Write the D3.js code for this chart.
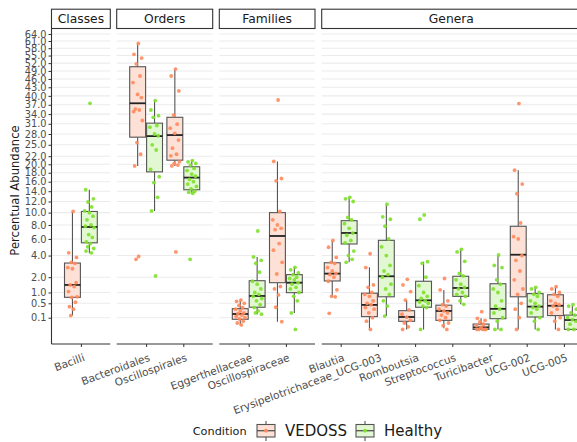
<!DOCTYPE html>
<html>
<head>
<meta charset="utf-8">
<script src="https://cdn.jsdelivr.net/npm/d3@7"></script>
<style>
  body { margin: 0; background: #fff; }
  svg { font-family: "DejaVu Sans", sans-serif; }
</style>
</head>
<body>
<svg id="chart" width="577" height="442"></svg>
<script>
// facets and taxa
var facetNames = ["Classes", "Orders", "Families", "Genera"];
var taxa = ["Bacilli", "Bacteroidales", "Oscillospirales", "Eggerthellaceae", "Oscillospiraceae",
	"Blautia", "Erysipelotrichaceae_UCG-003", "Romboutsia", "Streptococcus", "Turicibacter", "UCG-002", "UCG-005"];
var taxonFacet = ["Classes", "Orders", "Orders", "Families", "Families",
	"Genera", "Genera", "Genera", "Genera", "Genera", "Genera", "Genera"];
var conditions = ["VEDOSS", "Healthy"];

// box stats per taxon: [lower whisker, q1, median, q3, upper whisker]
var vedossBox = [
	[0.14, 0.755, 1.45, 3.23, 10.2],
	[19.6, 27.1, 37.5, 50.6, 60],
	[19.6, 21, 27.7, 33, 49.7],
	[0.014, 0.075, 0.174, 0.315, 0.634],
	[0.044, 1.6, 6.4, 10, 20.7],
	[0.78, 1.72, 2.28, 3.26, 5.77],
	[0, 0.12, 0.44, 0.96, 2.83],
	[0, 0.048, 0.113, 0.257, 0.634],
	[0.001, 0.06, 0.25, 0.43, 1.14],
	[0, 0, 0.003, 0.021, 0.09],
	[0, 0.78, 4.09, 7.8, 18.6],
	[0, 0.14, 0.41, 0.88, 1.34]
];
var healthyBox = [
	[4.25, 5.5, 7.7, 10.2, 14.3],
	[10.3, 18.2, 27.4, 31.2, 38.4],
	[13.6, 14.3, 16.9, 19.4, 20.9],
	[0.17, 0.36, 0.82, 1.74, 3.85],
	[0.2, 0.99, 1.6, 2.2, 2.83],
	[3.3, 5.35, 6.82, 8.67, 12.8],
	[0.13, 0.78, 2.07, 5.82, 11.5],
	[0, 0.36, 0.62, 1.7, 3.36],
	[0.46, 0.8, 1.26, 2.07, 4.74],
	[0, 0.084, 0.31, 1.53, 4.06],
	[0, 0.113, 0.38, 0.94, 1.3],
	[0, 0, 0.065, 0.15, 0.41]
];

// individual samples
var vedossPoints = [
	[10.2, 4.3, 3.8, 3.3, 3.2, 2.8, 2.7, 1.6, 1.45, 1.35, 1.05, 0.78, 0.75, 0.54, 0.38, 0.3, 0.14],
	[60, 55.5, 54, 51.7, 47.1, 44.7, 40.5, 39.4, 35.6, 35.3, 34.8, 32, 25.6, 22.5, 19.6, 3.9, 3.6],
	[49.7, 47.1, 41.7, 33.7, 30.9, 29.7, 28.2, 26.3, 24.1, 22.5, 22.1, 20.6, 20.2, 19.8, 19.6, 4.4],
	[0.63, 0.58, 0.5, 0.42, 0.35, 0.3, 0.25, 0.2, 0.18, 0.15, 0.12, 0.1, 0.08, 0.05, 0.03, 0.015],
	[38.6, 20.7, 16.7, 16.2, 10.2, 8.8, 8, 7.5, 7.3, 5.4, 4.6, 3.3, 2.25, 1.35, 1.2, 0.87, 0.36, 0.044],
	[5.8, 4.95, 3.8, 3.3, 3.2, 2.8, 2.5, 2.3, 2.2, 2.0, 1.7, 1.15, 0.8, 0.78, 0.19],
	[4.2, 2.8, 1.45, 1.3, 1.0, 0.9, 0.8, 0.6, 0.5, 0.45, 0.35, 0.3, 0.2, 0.1, 0.05, 0],
	[1.84, 1.45, 1.05, 0.63, 0.28, 0.17, 0.11, 0.06, 0.03, 0.005, 0],
	[1.9, 1.14, 0.6, 0.45, 0.4, 0.3, 0.25, 0.2, 0.15, 0.1, 0.06, 0.03, 0.01, 0],
	[0.23, 0.09, 0.06, 0.04, 0.02, 0.01, 0.003, 0, 0, 0, 0, 0],
	[37.4, 18.6, 15.5, 13.5, 8.3, 6.3, 6.0, 4.0, 3.5, 2.5, 1.8, 1.2, 0.9, 0.5, 0.3, 0.1, 0],
	[1.34, 1.2, 1.0, 0.9, 0.8, 0.6, 0.5, 0.45, 0.4, 0.3, 0.2, 0.1, 0.05, 0]
];
var healthyPoints = [
	[37.5, 14.3, 12.5, 11.9, 11, 10.3, 10, 9.4, 8.8, 8, 7.8, 7.6, 6.6, 6.2, 5.6, 5.4, 5, 4.8, 4.5, 4.3],
	[38.4, 35.3, 33.5, 33, 30.5, 30, 28, 27.5, 25, 23.6, 18.8, 17.1, 15.8, 12.8, 10.3, 2.1],
	[20.9, 20.6, 20.2, 19.8, 19, 18.5, 17.7, 17.2, 16.5, 16, 15.5, 15, 14.5, 14, 13.8, 13.6, 3.6],
	[7.1, 3.85, 3.5, 3.2, 2.4, 1.7, 1.5, 1.2, 1.0, 0.9, 0.8, 0.7, 0.6, 0.45, 0.35, 0.25, 0.2, 0.17],
	[2.83, 2.6, 2.35, 2.2, 2.0, 1.9, 1.8, 1.6, 1.5, 1.3, 1.2, 1.0, 0.8, 0.6, 0.2, 0],
	[12.8, 12.5, 12, 9.2, 8.8, 8.2, 7.5, 6.8, 6.5, 5.8, 5.5, 4.5, 4.0, 3.6, 3.3],
	[11.5, 9.3, 8.9, 7.8, 6.0, 5.0, 4.0, 3.0, 2.5, 2.2, 2.0, 1.5, 1.2, 0.9, 0.6, 0.4, 0.13],
	[9.6, 8.9, 3.36, 3.2, 2.0, 1.4, 1.0, 0.8, 0.7, 0.6, 0.55, 0.5, 0.4, 0.35, 0],
	[4.7, 4.4, 3.4, 2.3, 2.1, 1.8, 1.5, 1.3, 1.2, 1.0, 0.9, 0.8, 0.6, 0.46],
	[4.06, 3.0, 2.8, 1.8, 1.5, 1.2, 1.0, 0.6, 0.4, 0.3, 0.2, 0.1, 0.05, 0, 0],
	[1.3, 1.2, 1.0, 0.9, 0.8, 0.6, 0.5, 0.4, 0.35, 0.3, 0.2, 0.1, 0.05, 0],
	[0.45, 0.4, 0.3, 0.2, 0.15, 0.1, 0.07, 0.05, 0.02, 0, 0]
];

var yTicks = [0.1, 0.5, 1, 2, 4, 6, 8, 10, 12, 14, 16, 18, 20, 22, 25, 28, 31, 34, 37, 40, 43, 46, 49, 52, 55, 58, 61, 64];

// layout
var panelTop = 29, panelBottom = 344;
var step = 37.2;
var panels = [
	{name: "Classes", x0: 51.5, x1: 110.3, pad: 29.4},
	{name: "Orders", x0: 116.7, x1: 212.7, pad: 29.4},
	{name: "Families", x0: 219.3, x1: 315, pad: 29.4},
	{name: "Genera", x0: 321.7, x1: 581, pad: 19}
];
var pointColor = {VEDOSS: "#ff8a5c", Healthy: "#7ee02a"};
var boxFill = {VEDOSS: "#fde0d6", Healthy: "#e2f8d2"};
// fixed spread pattern for the jittered points
var jitter = [0.1, -0.55, 0.6, -0.2, 0.35, -0.7, 0.0, 0.55, -0.35, 0.25, -0.6, 0.7, -0.1, 0.45, -0.45, 0.15, -0.25, 0.65, -0.5, 0.3];

var svg = d3.select("#chart");

var y = d3.scaleSqrt().domain([0, 64]).range([329.4, 34]);
var dodge = d3.scaleBand().domain(conditions).range([-16.4, 16.4]).paddingInner(0.06);

panels.forEach(function(p, pi){
	var cats = taxa.filter(function(t, i){ return taxonFacet[i] === p.name; });
	var x = d3.scalePoint().domain(cats)
		.range([p.x0 + p.pad, p.x0 + p.pad + (cats.length - 1) * step]);
	p.x = x;

	var g = svg.append("g");

	// grid
	g.selectAll("line.grid").data(yTicks).enter().append("line")
		.attr("x1", p.x0).attr("x2", p.x1)
		.attr("y1", function(d){ return y(d); })
		.attr("y2", function(d){ return y(d); })
		.attr("stroke", "#ebebeb")
		.attr("stroke-width", 1.1);

	// strip
	g.append("rect")
		.attr("x", p.x0).attr("y", 9.2)
		.attr("width", p.x1 - p.x0 + 20 * (p.name === "Genera")).attr("height", 19.3)
		.attr("fill", "#fff")
		.attr("stroke", "#333")
		.attr("stroke-width", 1.1);
	g.append("text")
		.attr("x", (p.x0 + p.x1) / 2)
		.attr("y", 23.2)
		.attr("text-anchor", "middle")
		.attr("font-size", 12.3)
		.attr("fill", "#1a1a1a")
		.text(p.name);

	// boxes and points
	cats.forEach(function(cat){
		var ti = taxa.indexOf(cat);
		conditions.forEach(function(cond){
			var b = cond === "VEDOSS" ? vedossBox[ti] : healthyBox[ti];
			var pts = cond === "VEDOSS" ? vedossPoints[ti] : healthyPoints[ti];
			var cx = x(cat) + dodge(cond) + dodge.bandwidth() / 2;
			var w = dodge.bandwidth();

			g.append("line")
				.attr("x1", cx).attr("x2", cx)
				.attr("y1", y(b[0])).attr("y2", y(b[1]))
				.attr("stroke", "#555").attr("stroke-width", 1.1);
			g.append("line")
				.attr("x1", cx).attr("x2", cx)
				.attr("y1", y(b[3])).attr("y2", y(b[4]))
				.attr("stroke", "#555").attr("stroke-width", 1.1);
			g.append("rect")
				.attr("x", cx - w / 2).attr("y", y(b[3]))
				.attr("width", w).attr("height", Math.max(y(b[1]) - y(b[3]), 0.5))
				.attr("fill", boxFill[cond])
				.attr("stroke", "#555").attr("stroke-width", 1.1);
			g.append("line")
				.attr("x1", cx - w / 2).attr("x2", cx + w / 2)
				.attr("y1", y(b[2])).attr("y2", y(b[2]))
				.attr("stroke", "#222").attr("stroke-width", 1.8);

			g.selectAll(null).data(pts).enter().append("circle")
				.attr("cx", function(d, i){ return cx + jitter[i % jitter.length] * w * 0.42; })
				.attr("cy", function(d){ return y(d); })
				.attr("r", 1.9)
				.attr("fill", pointColor[cond])
				.attr("fill-opacity", 0.9);
		});
	});

	// x axis
	g.append("line")
		.attr("x1", p.x0).attr("x2", p.x1)
		.attr("y1", panelBottom).attr("y2", panelBottom)
		.attr("stroke", "#333").attr("stroke-width", 1.1);
	var ax = g.append("g")
		.attr("transform", "translate(0," + panelBottom + ")")
		.call(d3.axisBottom(x).tickSize(3).tickPadding(2));
	ax.select(".domain").remove();
	ax.selectAll(".tick line").attr("stroke", "#333");
	ax.selectAll(".tick text")
		.attr("font-family", "DejaVu Sans")
		.attr("font-size", 10.6)
		.attr("fill", "#4d4d4d")
		.attr("text-anchor", "end")
		.attr("y", 0).attr("dy", 0)
		.attr("transform", "translate(4,16.5) rotate(-20)");
});

// y axis
svg.append("line")
	.attr("x1", 51.5).attr("x2", 51.5)
	.attr("y1", panelTop).attr("y2", panelBottom)
	.attr("stroke", "#333").attr("stroke-width", 1.1);
var ay = svg.append("g")
	.attr("transform", "translate(51.5,0)")
	.call(d3.axisLeft(y).tickValues(yTicks).tickFormat(d3.format(".1f")).tickSize(3).tickPadding(2));
ay.select(".domain").remove();
ay.selectAll(".tick line").attr("stroke", "#333");
ay.selectAll(".tick text")
	.attr("font-family", "DejaVu Sans")
	.attr("font-size", 9.8)
	.attr("fill", "#4d4d4d");

svg.append("text")
	.attr("transform", "translate(19," + ((panelTop + panelBottom) / 2 + 4) + ") rotate(-90)")
	.attr("text-anchor", "middle")
	.attr("font-size", 11.6)
	.attr("fill", "#1a1a1a")
	.text("Percentual Abundance");

// legend
var leg = svg.append("g");
leg.append("text")
	.attr("x", 192.7).attr("y", 435)
	.attr("font-size", 11.3)
	.attr("fill", "#1a1a1a")
	.text("Condition");
var legendKeys = [{cond: "VEDOSS", kx: 257, tx: 285}, {cond: "Healthy", kx: 356, tx: 384}];
legendKeys.forEach(function(k){
	var mid = k.kx + 9;
	leg.append("line")
		.attr("x1", mid).attr("x2", mid).attr("y1", 421).attr("y2", 441)
		.attr("stroke", "#555").attr("stroke-width", 1.1);
	leg.append("rect")
		.attr("x", k.kx).attr("y", 424.5).attr("width", 18).attr("height", 12.5)
		.attr("fill", boxFill[k.cond]).attr("stroke", "#555").attr("stroke-width", 1.1);
	leg.append("line")
		.attr("x1", k.kx).attr("x2", k.kx + 18).attr("y1", 430.7).attr("y2", 430.7)
		.attr("stroke", "#555").attr("stroke-width", 1.3);
	leg.append("circle")
		.attr("cx", mid).attr("cy", 430.7).attr("r", 1.9)
		.attr("fill", pointColor[k.cond]);
	leg.append("text")
		.attr("x", k.tx).attr("y", 436)
		.attr("font-size", 15)
		.attr("fill", "#1a1a1a")
		.text(k.cond);
});
</script>
</body>
</html>
